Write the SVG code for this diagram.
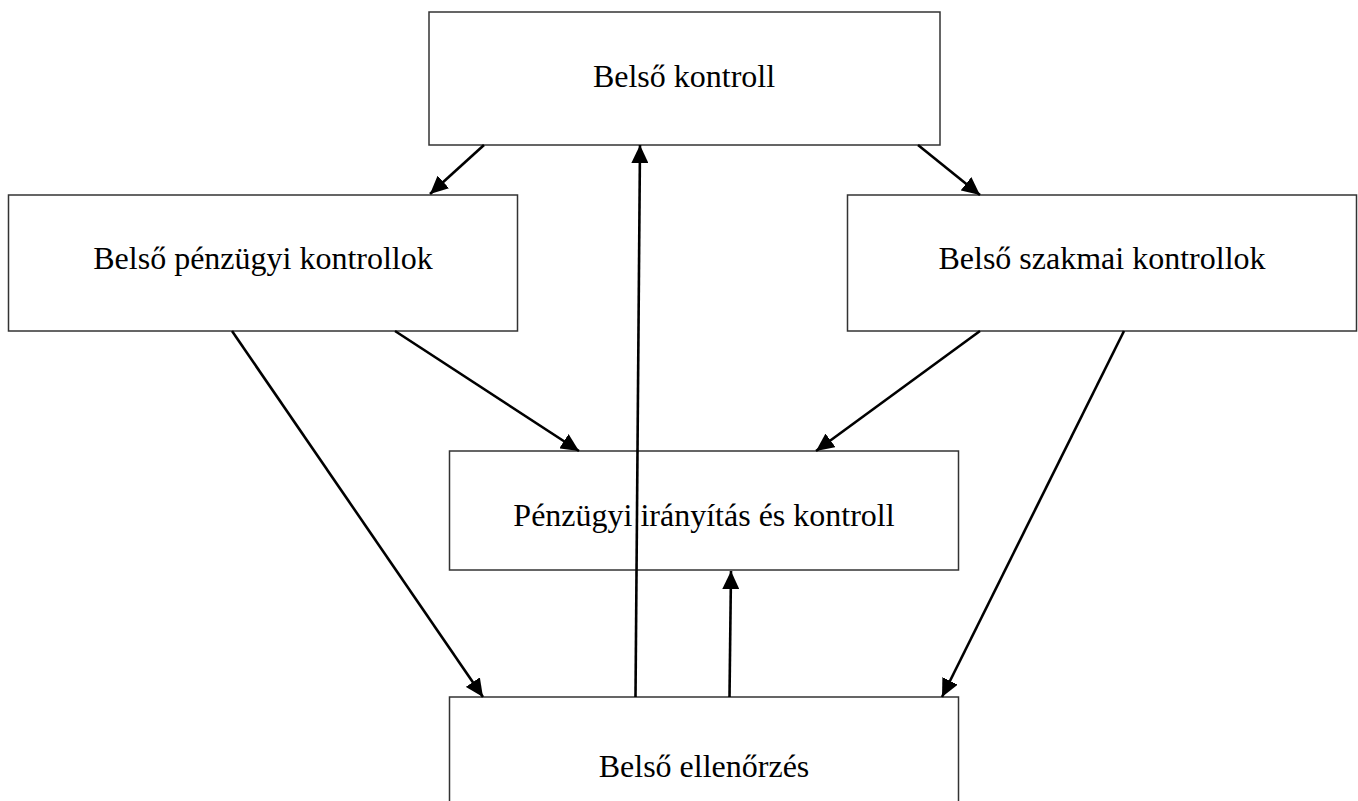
<svg xmlns="http://www.w3.org/2000/svg" width="1358" height="801" viewBox="0 0 1358 801">
<style>
.box{fill:#fff;stroke:#333;stroke-width:1.5}
.lbl{font-family:"Liberation Serif","Times New Roman",serif;font-size:32px;fill:#000;text-anchor:middle}
.con{stroke:#000;stroke-width:2.6;fill:none;marker-end:url(#ah)}
</style>
<defs>
<marker id="ah" markerUnits="userSpaceOnUse" markerWidth="18" markerHeight="17" refX="18" refY="8.5" orient="auto" viewBox="0 0 18 17">
<path d="M0,0 L18,8.5 L0,17 z" fill="#000"/>
</marker>
</defs>
<rect width="1358" height="801" fill="#fff"/>
<g id="n-belso-kontroll">
<rect class="box" x="429" y="12" width="511" height="133"/>
<text class="lbl" x="684" y="87">Belső kontroll</text>
</g>
<g id="n-penzugyi-kontrollok">
<rect class="box" x="8.5" y="195" width="509" height="136"/>
<text class="lbl" x="263" y="269">Belső pénzügyi kontrollok</text>
</g>
<g id="n-szakmai-kontrollok">
<rect class="box" x="847.5" y="195" width="509" height="136"/>
<text class="lbl" x="1102" y="269">Belső szakmai kontrollok</text>
</g>
<g id="n-penzugyi-iranyitas">
<rect class="box" x="449.5" y="451" width="509" height="119"/>
<text class="lbl" x="704" y="526">Pénzügyi irányítás és kontroll</text>
</g>
<g id="n-belso-ellenorzes">
<rect class="box" x="449.5" y="697" width="509" height="130"/>
<text class="lbl" x="704" y="777">Belső ellenőrzés</text>
</g>
<g id="connectors">
<line class="con" x1="484" y1="145" x2="430" y2="194"/>
<line class="con" x1="918" y1="145" x2="980" y2="195"/>
<line class="con" x1="635.5" y1="697" x2="640" y2="145"/>
<line class="con" x1="729.5" y1="697" x2="731" y2="571"/>
<line class="con" x1="232" y1="331" x2="483" y2="697"/>
<line class="con" x1="395" y1="331" x2="579" y2="451"/>
<line class="con" x1="980" y1="331" x2="816" y2="451"/>
<line class="con" x1="1124" y1="331" x2="942" y2="697"/>
</g>
</svg>
